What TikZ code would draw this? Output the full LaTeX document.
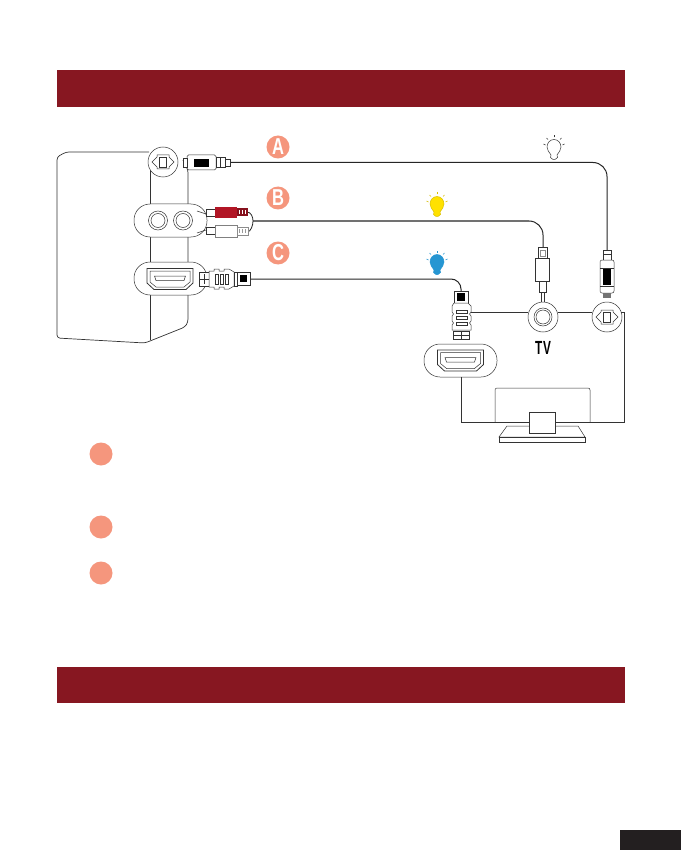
\documentclass[tikz,border=0pt]{standalone}
\usepackage{fontspec}
\setmainfont{Liberation Sans}
\usepackage{tikz}
\usetikzlibrary{positioning, calc}
\definecolor{soundbarred}{RGB}{135,23,33}
\definecolor{badgeorange}{RGB}{245,150,125}
\definecolor{rcared}{RGB}{178,22,38}
\definecolor{bulbyellow}{RGB}{255,225,0}
\definecolor{bulbblue}{RGB}{38,150,210}
\definecolor{pagecorner}{RGB}{35,31,32}

\newcommand{\optsym}[2]{
  \begin{scope}[shift={(#1,#2)}]
    \draw[thinline] (-11,0) -- (-6,-5) -- (-6,-7) -- (6,-7) -- (6,-5) -- (11,0) -- (6,5) -- (6,7) -- (-6,7) -- (-6,5) -- cycle;
    \draw[thinline] (-3.5,-5) rectangle (3.5,5);
  \end{scope}
}
\newcommand{\hdmisym}[2]{
  \begin{scope}[shift={(#1,#2)}]
    \draw[thinline, line width=0.8pt] (-23,-10.5) -- (23,-10.5) -- (23,4) -- (16,10.5) -- (-16,10.5) -- (-23,4) -- cycle;
    \draw[thinline] (-20,-8) -- (20,-8) -- (20,3) -- (14,8) -- (-14,8) -- (-20,3) -- cycle;
    \draw[thinline] (-15.5,-3) -- (15.5,-3) -- (14,1.5) -- (-14,1.5) -- cycle;
  \end{scope}
}
\newcommand{\bulbsym}[4]{
  \begin{scope}[shift={(#1,#2)}]
    \draw[draw=#4, fill=#3, line width=0.5pt] (-7,0) .. controls (-7,-4) and (-4,-7.5) .. (0,-7.5) .. controls (4,-7.5) and (7,-4) .. (7,0) .. controls (7,3) and (5,5) .. (3,8) -- (3.5,10.5) -- (1,12.5) -- (-1,12.5) -- (-3.5,10.5) -- (-3,8) .. controls (-5,5) and (-7,3) .. (-7,0) -- cycle;
    \foreach \rayx/\rayy/\rayu/\rayv in {0/-9.5/0/-11.5, -6/-7.5/-7.5/-9, 6/-7.5/7.5/-9, -8.5/-2/-10.5/-3, 8.5/-2/10.5/-3}
      \draw[draw=#4, line width=0.6pt] (\rayx,\rayy) -- (\rayu,\rayv);
  \end{scope}
}

\begin{document}
\begin{tikzpicture}[
    x=1pt, y=-1pt,
    thinline/.style={draw=black!80, line width=0.5pt},
    cable/.style={draw=black!85, line width=1pt, rounded corners=14pt},
    band/.style={fill=soundbarred, draw=none},
    badge/.style={circle, fill=badgeorange, minimum size=23pt, inner sep=0pt, outer sep=0pt, text=white, font=\bfseries\fontsize{23}{23}\selectfont},
    dot/.style={circle, fill=badgeorange, minimum size=23pt, inner sep=0pt},
    port/.style={circle, draw=black!80, fill=white, line width=0.5pt, minimum size=30pt, inner sep=0pt, outer sep=0pt},
    socket/.style={circle, draw=black!80, fill=white, line width=0.5pt, inner sep=0pt, outer sep=0pt},
    pill/.style={draw=black!80, fill=white, line width=0.5pt, rounded corners=16pt, minimum width=73pt, minimum height=33pt, inner sep=0pt, outer sep=0pt},
    plugpart/.style={draw=black!80, fill=white, line width=0.5pt}
  ]
  \useasboundingbox (0,0) rectangle (681,850);
  \fill[white] (0,0) rectangle (681,850);

  \fill[band] (57,70) rectangle (625,107);
  \fill[band] (57,667) rectangle (625,703);
  \fill[pagecorner] (620,830) rectangle (681,850);

  \draw[thinline, line width=0.7pt, rounded corners=3pt] (149,152) -- (66,152) -- (57,157) -- (57,338) -- (145,343) -- (185,327) -- (188,322) -- (188,170) -- (183,160);
  \draw[thinline] (150,170) -- (150,340);

  \node[port] (optbar) at (163,162) {};
  \optsym{163}{162}
  \node[pill] (rcabar) at (170.5,220.5) {};
  \node[socket, minimum size=19pt] (jackl) at (158,220.5) {};
  \node[socket, minimum size=14pt] (jacklin) at (158,220.5) {};
  \node[socket, minimum size=19pt] (jackr) at (183,220.5) {};
  \node[socket, minimum size=14pt] (jackrin) at (183,220.5) {};
  \node[pill] (hdmibar) at (170.5,278.5) {};
  \hdmisym{170}{279}

  \node[badge] (badgea) at (278,147) {\scalebox{0.72}[1]{A}};
  \node[badge] (badgeb) at (278,198) {\scalebox{0.72}[1]{B}};
  \node[badge] (badgec) at (278,253) {\scalebox{0.72}[1]{C}};
  \bulbsym{554}{147}{white}{black!80}
  \bulbsym{437}{204}{bulbyellow}{bulbyellow!85!black}
  \bulbsym{437}{262}{bulbblue}{bulbblue}

  \coordinate (plugaend) at (230,162.5);
  \coordinate (plugatv) at (607,250);
  \coordinate (rcajoin) at (253,221);
  \coordinate (miniend) at (543,247);
  \coordinate (plugcend) at (250,279);
  \coordinate (plugctv) at (461,291);
  \draw[cable] (plugaend) -| (plugatv);
  \draw[cable] (rcajoin) -| (miniend);
  \draw[cable, rounded corners=10pt] (plugcend) -| (plugctv);
  \draw[draw=black!85, line width=0.8pt] (247,212) .. controls (251,212) and (253,217) .. (rcajoin) .. controls (253,225) and (251,232) .. (247,232);

  \draw[plugpart, rounded corners=1.5pt] (187,155) rectangle (216,170);
  \draw[plugpart] (183,158) rectangle (187,167);
  \draw[plugpart] (216,157.5) rectangle (225,167.5);
  \draw[thinline] (220,157.5) -- (220,167.5);
  \draw[plugpart] (225,159) rectangle (230,166);
  \fill[black] (194,159) rectangle (209,167);

  \draw[thinline] (197,211) -- (206,214);
  \draw[thinline] (197,233) -- (206,230);
  \draw[plugpart] (206,209) rectangle (215,216);
  \draw[plugpart] (206,227) rectangle (215,234);
  \fill[rcared] (215,207) rectangle (237,218);
  \fill[rcared!75!black] (237,208) rectangle (248,216);
  \foreach \stripex in {239,242,245}
    \fill[white] (\stripex,210) rectangle ++(1.3,4);
  \draw[plugpart, draw=black!50] (215,225) rectangle (237,237);
  \draw[plugpart, draw=black!45] (237,227) rectangle (248,235);
  \foreach \stripex in {239.5,242.5,245.5}
    \draw[thinline, draw=black!40] (\stripex,229) -- ++(0,4);

  \draw[plugpart, line width=0.9pt] (199,272) rectangle (209,286);
  \draw[thinline, line width=0.9pt] (199,279) -- (209,279) (204,274) -- (204,284);
  \draw[plugpart] (209,271) -- (214,271) -- (214,269) -- (219,269) -- (219,271) -- (224,271) -- (224,269) -- (229,269) -- (234,272) -- (234,286) -- (229,289) -- (224,289) -- (224,287) -- (219,287) -- (219,289) -- (214,289) -- (214,287) -- (209,287) -- cycle;
  \foreach \stripex in {215,220,225}
    \draw[plugpart] (\stripex,274) rectangle ++(3,10);
  \draw[plugpart] (234,272) rectangle (237,286);
  \draw[plugpart] (237,272) rectangle (250,285);
  \fill[black] (240,275) rectangle (247,282);

  \draw[plugpart] (603,250) rectangle (611,260);
  \draw[thinline] (603,254) -- (611,254);
  \draw[plugpart, rounded corners=2pt] (600,260) rectangle (614,293);
  \draw[thinline] (600,268) -- (614,268) (600,286) -- (614,286);
  \fill[black] (603,269) rectangle (611,285);
  \fill[black!55] (603,293) rectangle (611,298);
  \node[port] (opttv) at (607,317) {};
  \optsym{607}{317}

  \draw[plugpart] (538,247) rectangle (547.5,258);
  \draw[thinline, draw=black!45] (540,250) rectangle (545.5,256);
  \draw[plugpart] (535,258) rectangle (549.5,281);
  \draw[plugpart] (539.5,281) rectangle (546,292);
  \draw[plugpart] (541,292) rectangle (544.5,302);
  \node[port] (jacktv) at (543,317) {};
  \node[socket, minimum size=18pt] (jacktvout) at (543,317) {};
  \node[socket, minimum size=14pt] (jacktvin) at (543,317) {};

  \draw[plugpart, line width=0.7pt] (454,291) rectangle (468,303);
  \fill[black] (457,293) rectangle (465,301);
  \draw[plugpart] (454,303) -- (468,303) -- (471,306) -- (471,312) -- (469.5,314) -- (471,316) -- (471,321) -- (469.5,323) -- (471,325) -- (471,330) -- (452,330) -- (452,325) -- (453.5,323) -- (452,321) -- (452,316) -- (453.5,314) -- (452,312) -- (452,306) -- cycle;
  \foreach \stripey in {310,316,322}
    \draw[plugpart] (456,\stripey) rectangle ++(11,3.5);
  \draw[plugpart, line width=0.9pt] (453,331) rectangle (469,339);
  \draw[thinline, line width=0.9pt] (453,335) -- (469,335) (461,331) -- (461,339);

  \node[pill] (hdmitv) at (460.5,360.5) {};
  \hdmisym{460.5}{360.5}

  \coordinate (hdmitvdrop) at (461,422);
  \coordinate (tvcorner) at (624,422);
  \coordinate (opttvright) at (624,312);
  \draw[thinline] (471,312) -- (jacktv.west |- 471,312);
  \draw[thinline] (jacktv.east |- 471,312) -- (opttv.west |- 471,312);
  \draw[thinline] (hdmitv.south -| hdmitvdrop) -- (hdmitvdrop) -- (tvcorner) -- (opttvright) -- (621,312);
  \draw[thinline, rounded corners=2pt] (495,422) -- (495,388) -- (590,388) -- (590,422);
  \draw[thinline, fill=white] (507,426) -- (499,437) -- (585,437) -- (578,426) -- cycle;
  \draw[thinline, fill=white] (499,437) rectangle (585,442);
  \draw[thinline, fill=white] (529,412) rectangle (555,433);

  \node[inner sep=0pt, font=\bfseries\fontsize{19}{19}\selectfont] (tvlabel) at (543,348) {\scalebox{0.62}[1]{T\kern1.5pt V}};

  \node[dot] (dota) at (101,454) {};
  \node[dot] (dotb) at (101,527) {};
  \node[dot] (dotc) at (101,573) {};
\end{tikzpicture}
\end{document}
